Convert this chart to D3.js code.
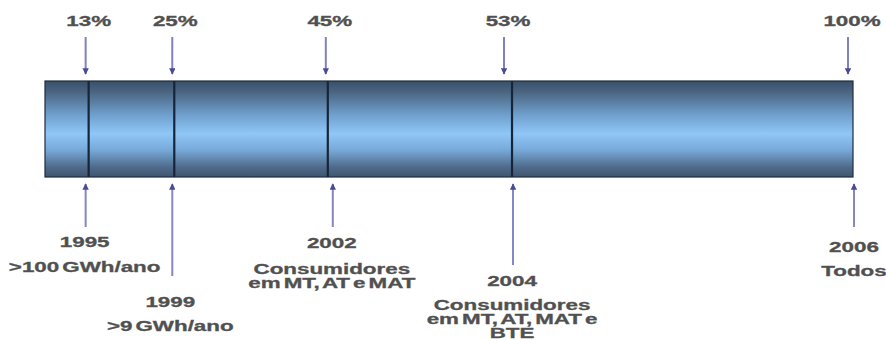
<!DOCTYPE html>
<html>
<head>
<meta charset="utf-8">
<script src="https://cdn.jsdelivr.net/npm/d3@7"></script>
<style>
html,body{margin:0;padding:0;background:#fff;}
svg{display:block;}
text{font-family:"Liberation Sans",Arial,Helvetica,sans-serif;font-weight:bold;stroke:#555;stroke-width:0.3px;}
</style>
</head>
<body>
<svg id="chart" width="886" height="340"></svg>
<script>
// ---- data ----
const percentLabels = ["13%", "25%", "45%", "53%", "100%"];
const years = ["1995", "1999", "2002", "2004", "2006"];
const descriptions = [
  [">100 GWh/ano"],
  [">9 GWh/ano"],
  ["Consumidores", "em MT, AT e MAT"],
  ["Consumidores", "em MT, AT, MAT e", "BTE"],
  ["Todos"]
];
// position of each milestone along the timeline bar (0-100)
const milestonePos = [5.4, 16.0, 35.0, 57.8, 100];

// ---- layout ----
const barLeft = 45, barRight = 853, barTop = 81, barBottom = 177;
const topArrowShift = [-3, -2, -2, -8, -5];
const botArrowShift = [-3, -2, 5, 1, 1];
const topLabelShift = [0, 1, 2, -4, -1];
const botLabelShift = [-4, -4, 4, 0, 1];
const botArrowEnd = [227, 276, 227, 265, 227];
const yearY = [242, 302, 243, 281, 247];
const descGap = [25, 24, 26, 24, 24];
const lineGap = 14;
const fontSize = 14;
const textScaleX = 1.6;

const svg = d3.select("#chart");
const x = d3.scaleLinear().domain([0, 100]).range([barLeft, barRight]);

const defs = svg.append("defs");
const grad = defs.append("linearGradient").attr("id", "barGrad")
  .attr("x1", 0).attr("y1", 0).attr("x2", 0).attr("y2", 1);
[[0, "#3a4f68"], [0.12, "#4b6683"], [0.35, "#6f9fcc"], [0.55, "#8fc7f8"], [0.72, "#77a9d8"], [0.9, "#4e6a89"], [1, "#3f5570"]]
  .forEach(([o, c]) => grad.append("stop").attr("offset", o).attr("stop-color", c));

defs.append("marker").attr("id", "arr")
  .attr("viewBox", "0 0 10 10").attr("refX", 9).attr("refY", 5)
  .attr("markerWidth", 3.2).attr("markerHeight", 3.2).attr("orient", "auto")
  .attr("markerUnits", "strokeWidth")
  .append("path").attr("d", "M0,0L10,5L0,10Z").attr("fill", "#4a4c93");

// bar
svg.append("rect")
  .attr("x", x(0)).attr("y", barTop)
  .attr("width", x(100) - x(0)).attr("height", barBottom - barTop)
  .attr("fill", "url(#barGrad)")
  .attr("stroke", "#1e2c40").attr("stroke-width", 1.2);

// dividers
svg.selectAll("line.div").data(milestonePos.slice(0, -1)).enter()
  .append("line").attr("class", "div")
  .attr("x1", d => x(d)).attr("x2", d => x(d))
  .attr("y1", barTop).attr("y2", barBottom)
  .attr("stroke", "#16253a").attr("stroke-width", 2.2);

// top arrows
svg.selectAll("line.ta").data(milestonePos).enter()
  .append("line").attr("class", "ta")
  .attr("x1", (d, i) => x(d) + topArrowShift[i]).attr("x2", (d, i) => x(d) + topArrowShift[i])
  .attr("y1", 37).attr("y2", 74)
  .attr("stroke", "#7f81c2").attr("stroke-width", 2)
  .attr("marker-end", "url(#arr)");

// bottom arrows
svg.selectAll("line.ba").data(milestonePos).enter()
  .append("line").attr("class", "ba")
  .attr("x1", (d, i) => x(d) + botArrowShift[i]).attr("x2", (d, i) => x(d) + botArrowShift[i])
  .attr("y1", (d, i) => botArrowEnd[i]).attr("y2", 184)
  .attr("stroke", "#8486c6").attr("stroke-width", 2)
  .attr("marker-end", "url(#arr)");

// top percentage labels
svg.selectAll("text.pct").data(percentLabels).enter()
  .append("text").attr("class", "pct")
  .attr("transform", (d, i) => `translate(${x(milestonePos[i]) + topLabelShift[i]},26) scale(${textScaleX},1)`)
  .attr("text-anchor", "middle")
  .attr("font-size", fontSize).attr("fill", "#505050")
  .text(d => d);

// bottom year labels + descriptions
const g = svg.selectAll("g.lbl").data(years).enter()
  .append("g").attr("class", "lbl")
  .attr("transform", (d, i) => `translate(${x(milestonePos[i]) + botLabelShift[i]},0)`);

g.append("text")
  .attr("transform", (d, i) => `translate(0,${yearY[i] + 5}) scale(${textScaleX},1)`)
  .attr("text-anchor", "middle").attr("font-size", fontSize).attr("fill", "#505050")
  .text(d => d);

g.each(function (d, i) {
  d3.select(this).selectAll("text.desc").data(descriptions[i]).enter()
    .append("text").attr("class", "desc")
    .attr("transform", (t, j) => `translate(0,${yearY[i] + descGap[i] + j * lineGap + 5}) scale(${textScaleX},1)`)
    .attr("text-anchor", "middle").attr("font-size", fontSize).attr("fill", "#505050")
    .attr("word-spacing", -2)
    .text(t => t);
});
</script>
</body>
</html>
